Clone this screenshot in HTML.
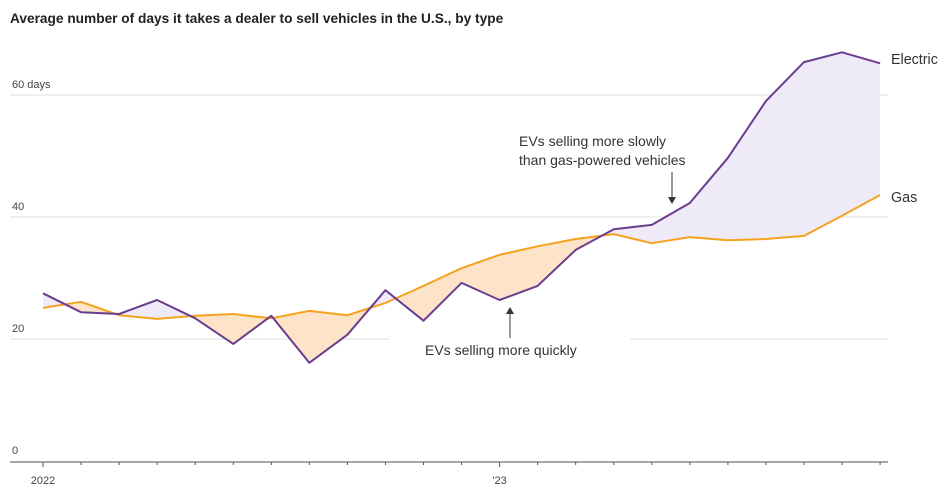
<!DOCTYPE html>
<html><head><meta charset="utf-8">
<style>
body{margin:0;background:#fff;font-family:"Liberation Sans",sans-serif;}
svg text{font-family:"Liberation Sans",sans-serif;}
</style></head>
<body>
<svg id="chart" width="950" height="493">
<text x="10" y="23" font-size="13.7" font-weight="bold" fill="#222">Average number of days it takes a dealer to sell vehicles in the U.S., by type</text>
<g id="grid"></g>
<g id="areas"></g>
<g id="lines"></g>
<g id="axis"></g>
<g>
<text x="519" y="146" font-size="14" fill="#333">EVs selling more slowly</text>
<text x="519" y="165" font-size="14" fill="#333">than gas-powered vehicles</text>
<line x1="672" y1="172" x2="672" y2="200" stroke="#333" stroke-width="1"/>
<path d="M668,197 L672,204 L676,197Z" fill="#333"/>
</g>
<g>
<rect x="390" y="330" width="240" height="30" fill="#fff"/>
<text x="425" y="355" font-size="14" fill="#333">EVs selling more quickly</text>
<line x1="510" y1="311" x2="510" y2="338" stroke="#333" stroke-width="1"/>
<path d="M506,314 L510,307 L514,314Z" fill="#333"/>
</g>
<text x="891" y="64" font-size="14.3" fill="#333">Electric</text>
<text x="891" y="202" font-size="14.3" fill="#333">Gas</text>
</svg>
<script>
const months = ["2022","","","","","","","","","","","","'23","","","","","","","","","",""];
const electric = [27.5,24.4,24.1,26.4,23.4,19.2,23.8,16.1,20.7,28.0,23.0,29.2,26.4,28.7,34.6,38.0,38.7,42.3,49.7,59.0,65.4,67.0,65.2];
const gas = [25.1,26.1,23.9,23.3,23.8,24.1,23.4,24.6,23.9,25.9,28.7,31.6,33.8,35.2,36.4,37.2,35.7,36.7,36.2,36.4,36.9,40.2,43.6];
const yTicks = [0,20,40,60];
const yTickLabels = ["0","20","40","60 days"];

const NS="http://www.w3.org/2000/svg";
const x = i => 43 + i*38.05;
const y = v => 461 - v*6.1;
function mk(tag, attrs, parent){const e=document.createElementNS(NS,tag);for(const k in attrs)e.setAttribute(k,attrs[k]);parent.appendChild(e);return e;}
const grid=document.getElementById('grid');
yTicks.forEach((t,i)=>{
  if(t>0){
    const l=mk('line',{x1:10,x2:888,y1:y(t),y2:y(t),stroke:'#e2e2e2','stroke-width':1},grid);
    
    
  }
  const tx=mk('text',{x:12,y:y(t)-7,'font-size':11,fill:'#444'},grid);
  tx.textContent=yTickLabels[i];
  
  
});
const axis=document.getElementById('axis');
const base=mk('line',{x1:10,x2:888,y1:y(0)+1,y2:y(0)+1,stroke:'#888','stroke-width':1.5},axis);


months.forEach((m,i)=>{
  const t=mk('line',{x1:x(i),x2:x(i),y1:y(0)+1,y2:y(0)+(m?6:4),stroke:'#555','stroke-width':1},axis);
  
  
  if(m){const tx=mk('text',{x:x(i),y:484,'font-size':11,fill:'#444','text-anchor':'middle'},axis);tx.textContent=m;
  
  }
});
const ePts=electric.map((v,i)=>[x(i),y(v)]);
const gPts=gas.map((v,i)=>[x(i),y(v)]);
const pstr=p=>p.map(q=>q[0].toFixed(1)+','+q[1].toFixed(1)).join(' ');
const areas=document.getElementById('areas');
const defs=mk('defs',{},areas);
const cBelow=mk('clipPath',{id:'belowE'},defs);
mk('polygon',{points:pstr(ePts)+' '+x(electric.length-1)+',500 '+x(0)+',500'},cBelow);
const cAbove=mk('clipPath',{id:'aboveE'},defs);
mk('polygon',{points:pstr(ePts)+' '+x(electric.length-1)+',0 '+x(0)+',0'},cAbove);
const between=pstr(ePts)+' '+pstr(gPts.slice().reverse());
const a1=mk('polygon',{points:between,fill:'#efeaf8','clip-path':'url(#belowE)'},areas);


const a2=mk('polygon',{points:between,fill:'#fde3c8','clip-path':'url(#aboveE)'},areas);


const lines=document.getElementById('lines');
const lg=mk('polyline',{points:pstr(gPts),fill:'none',stroke:'#f5a21f','stroke-width':2,'stroke-linejoin':'round'},lines);


const le=mk('polyline',{points:pstr(ePts),fill:'none',stroke:'#6a3d8f','stroke-width':2,'stroke-linejoin':'round'},lines);


</script>
</body></html>
